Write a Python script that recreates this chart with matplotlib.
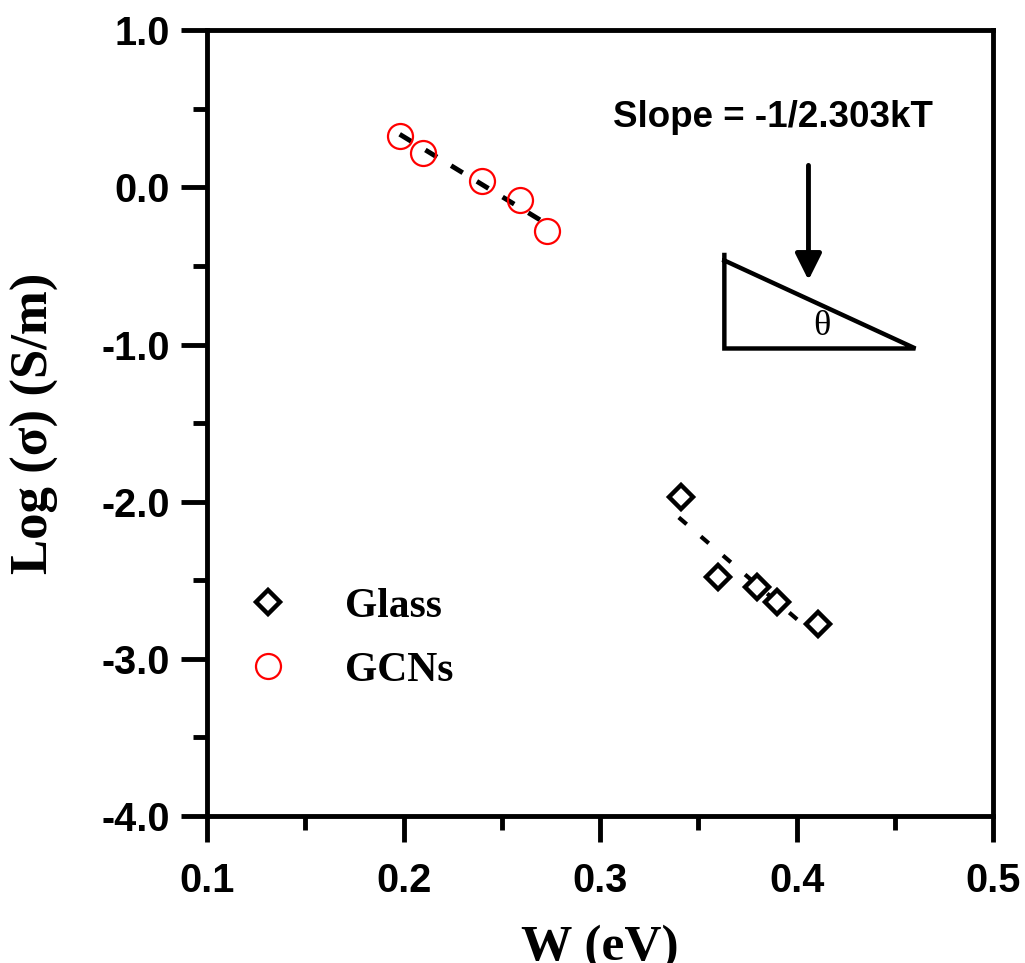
import matplotlib
matplotlib.use("Agg")
import matplotlib.pyplot as plt
import numpy as np
from matplotlib.ticker import MultipleLocator, FormatStrFormatter

# data
w_gcn = [0.198, 0.210, 0.240, 0.259, 0.273]
log_gcn = [0.33, 0.22, 0.04, -0.08, -0.28]
w_glass = [0.341, 0.360, 0.380, 0.390, 0.411]
log_glass = [-1.97, -2.48, -2.54, -2.64, -2.78]

# fitted dashed lines (end points)
fit_gcn_w = [0.198, 0.273]
fit_gcn_log = [0.338, -0.234]
fit_glass_w = [0.340, 0.405]
fit_glass_log = [-2.10, -2.80]

xlim = (0.1, 0.5)
ylim = (-4.0, 1.0)
xticks = [0.1, 0.2, 0.3, 0.4, 0.5]
yticks = [-4.0, -3.0, -2.0, -1.0, 0.0, 1.0]

fig = plt.figure(figsize=(10.25, 9.63), dpi=100)
ax = fig.add_axes([0.202, 0.1526, 0.767, 0.816])

ax.plot(fit_gcn_w, fit_gcn_log, color="black", lw=3.5, dashes=(2.8, 3.4), zorder=2)
ax.plot(fit_glass_w, fit_glass_log, color="black", lw=3, dashes=(2.5, 4.5), zorder=2)

ax.plot(w_glass, log_glass, ls="none", marker="D", ms=12, mfc="white", mec="black",
        mew=3.2, label="Glass", zorder=3)
ax.plot(w_gcn, log_gcn, ls="none", marker="o", ms=18, mfc="none", mec="red",
        mew=1.6, label="GCNs", zorder=3)

ax.set_xlim(*xlim)
ax.set_ylim(*ylim)
ax.set_xticks(xticks)
ax.set_yticks(yticks)
ax.xaxis.set_minor_locator(MultipleLocator(0.05))
ax.yaxis.set_minor_locator(MultipleLocator(0.5))
ax.xaxis.set_major_formatter(FormatStrFormatter("%.1f"))
ax.yaxis.set_major_formatter(FormatStrFormatter("%.1f"))

for s in ax.spines.values():
    s.set_linewidth(3.5)
ax.tick_params(which="major", direction="out", length=19, width=3.5, pad=8)
ax.tick_params(which="minor", direction="out", length=10, width=3.5)
ax.tick_params(axis="x", which="major", pad=14)
for lab in ax.get_xticklabels() + ax.get_yticklabels():
    lab.set_fontfamily("Liberation Sans")
    lab.set_fontweight("bold")
    lab.set_fontsize(28.5)

ax.set_xlabel("W (eV)", family="Liberation Serif", fontweight="bold", fontsize=37, labelpad=18)
ax.set_ylabel("Log (σ) (S/m)", family="Liberation Serif", fontweight="bold", fontsize=38, labelpad=30)

leg = ax.legend(loc="lower left", bbox_to_anchor=(0.003, 0.113), frameon=False,
                prop={"family": "Liberation Serif", "weight": "bold", "size": 30},
                handletextpad=1.35, labelspacing=0.62, handlelength=1.0)

# slope sketch
ax.text(0.720, 0.889, "Slope = -1/2.303kT", transform=ax.transAxes, ha="center", va="center",
        family="Liberation Sans", fontweight="bold", fontsize=26.5)
ax.annotate("", xy=(0.765, 0.682), xytext=(0.765, 0.828), xycoords="axes fraction",
            arrowprops=dict(arrowstyle="-|>,head_width=0.8,head_length=1.6", lw=3.5, color="black",
                            shrinkA=0, shrinkB=0))
ax.plot([0.658, 0.658, 0.901, 0.658], [0.714, 0.595, 0.595, 0.707], color="black", lw=3.2,
        transform=ax.transAxes, solid_joinstyle="miter", clip_on=False)
ax.text(0.782, 0.623, "θ", transform=ax.transAxes, ha="center", va="center",
        family="Liberation Serif", fontsize=26)

fig.savefig("out.png", dpi=100)
